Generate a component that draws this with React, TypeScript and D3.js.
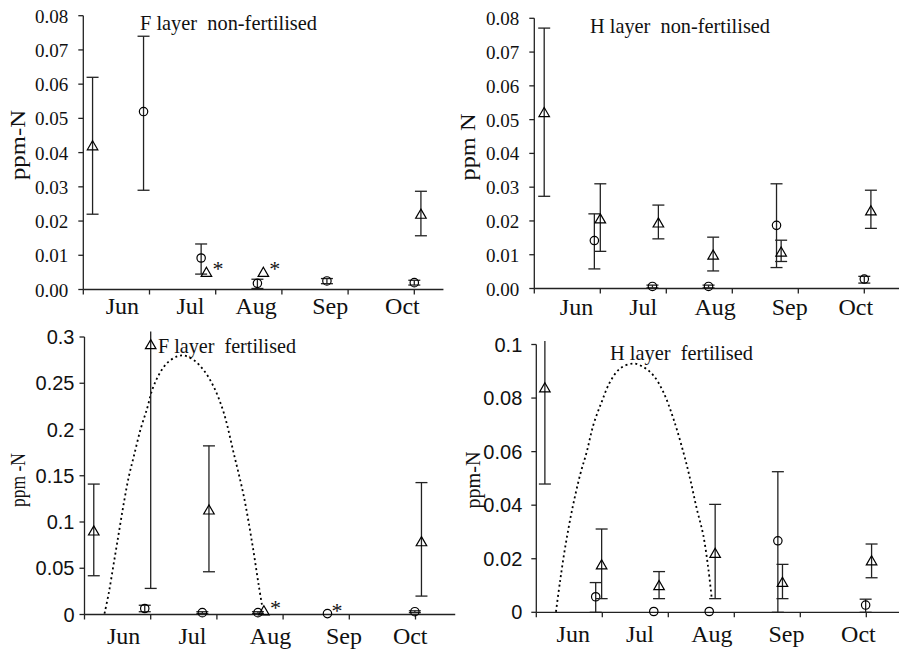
import * as d3 from 'd3'

// month axis: x is in "months since 1 June", ticks at month boundaries
const months = ['Jun', 'Jul', 'Aug', 'Sep', 'Oct']
const monthTicks = [1, 2, 3, 4, 5]

// --- F layer non-fertilised ---
const fNonCircX = [0.91, 1.78, 2.63, 3.68, 5.0]
const fNonCircY = [0.052, 0.0092, 0.0018, 0.0025, 0.002]
const fNonCircLo = [0.029, 0.0045, 0.0003, 0.0017, 0.0013]
const fNonCircHi = [0.074, 0.0133, 0.003, 0.0032, 0.0027]
const fNonTriX = [0.14, 1.86, 2.72, 5.1]
const fNonTriY = [0.042, 0.005, 0.005, 0.022]
const fNonTriLo = [0.022, 0.005, 0.005, 0.0157]
const fNonTriHi = [0.062, 0.005, 0.005, 0.0287]
const fNonTriSig = [false, true, true, false]
const fNonMonthPos = [0.59, 1.62, 2.61, 3.73, 4.82]

// --- H layer non-fertilised ---
const hNonCircX = [0.91, 1.79, 2.64, 3.67, 5.0]
const hNonCircY = [0.0142, 0.0006, 0.0006, 0.0187, 0.0028]
const hNonCircLo = [0.0058, 0.0002, 0.0002, 0.0062, 0.0016]
const hNonCircHi = [0.0221, 0.001, 0.001, 0.031, 0.0036]
const hNonTriX = [0.15, 1.0, 1.88, 2.71, 3.74, 5.1]
const hNonTriY = [0.0521, 0.0206, 0.0194, 0.0099, 0.0108, 0.023]
const hNonTriLo = [0.0273, 0.011, 0.0147, 0.0052, 0.008, 0.0178]
const hNonTriHi = [0.0771, 0.031, 0.0247, 0.0152, 0.0143, 0.0291]
const hNonMonthPos = [0.64, 1.65, 2.74, 3.87, 4.87]

const nonTicks = [0, 0.01, 0.02, 0.03, 0.04, 0.05, 0.06, 0.07, 0.08]
const nonTickLabels = ['0.00', '0.01', '0.02', '0.03', '0.04', '0.05', '0.06', '0.07', '0.08']

// --- F layer fertilised ---
const fFertCircX = [0.91, 1.78, 2.62, 3.67, 4.99]
const fFertCircY = [0.0065, 0.002, 0.002, 0.001, 0.003]
const fFertCircLo = [0.003, 0.001, 0.001, 0.001, 0.002]
const fFertCircHi = [0.01, 0.003, 0.003, 0.001, 0.004]
const fFertCircSig = [false, false, false, true, false]
const fFertTriX = [0.14, 1.0, 1.88, 2.71, 5.09]
const fFertTriY = [0.0903, 0.2917, 0.113, 0.004, 0.0787]
const fFertTriLo = [0.0419, 0.0282, 0.0462, 0.004, 0.0199]
const fFertTriHi = [0.141, 0.306, 0.1823, 0.004, 0.1426]
const fFertTriSig = [false, false, false, true, false]
const fFertMonthPos = [0.59, 1.63, 2.81, 3.92, 4.92]
const fFertTicks = [0, 0.05, 0.1, 0.15, 0.2, 0.25, 0.3]
const fFertTickLabels = ['0', '0.05', '0.1', '0.15', '0.2', '0.25', '0.3']
// dotted fertiliser curve
const fCurveX = [0.302, 0.367, 0.443, 0.518, 0.594, 0.669, 0.745, 0.846, 0.947, 1.023, 1.122, 1.249, 1.4, 1.5, 1.651, 1.802, 1.953, 2.104, 2.255, 2.406, 2.533, 2.633, 2.684]
const fCurveY = [0.001, 0.0234, 0.0558, 0.0881, 0.1205, 0.149, 0.171, 0.2, 0.223, 0.243, 0.259, 0.272, 0.279, 0.28, 0.275, 0.264, 0.246, 0.218, 0.174, 0.128, 0.077, 0.031, 0.009]

// --- H layer fertilised ---
const hFertCircX = [0.9, 1.78, 2.62, 3.66, 4.99]
const hFertCircY = [0.0058, 0.0003, 0.0003, 0.0267, 0.0027]
const hFertCircLo = [0, 0.0003, 0.0003, 0, 0]
const hFertCircHi = [0.0111, 0.0003, 0.0003, 0.0525, 0.0049]
const hFertTriX = [0.13, 0.99, 1.86, 2.71, 3.73, 5.08]
const hFertTriY = [0.0838, 0.0177, 0.00995, 0.022, 0.0112, 0.0192]
const hFertTriLo = [0.0479, 0.0051, 0.0051, 0.0051, 0.0051, 0.0129]
const hFertTriHi = [0.1013, 0.0311, 0.0152, 0.0403, 0.0179, 0.0255]
const hFertMonthPos = [0.56, 1.57, 2.66, 3.79, 4.88]
const hFertTicks = [0, 0.02, 0.04, 0.06, 0.08, 0.1]
const hFertTickLabels = ['0', '0.02', '0.04', '0.06', '0.08', '0.1']
const hCurveX = [0.298, 0.359, 0.435, 0.536, 0.662, 0.764, 0.864, 0.991, 1.117, 1.268, 1.47, 1.621, 1.773, 1.924, 2.076, 2.227, 2.329, 2.43, 2.53, 2.606, 2.658]
const hCurveY = [0.0002, 0.0114, 0.0239, 0.0375, 0.0512, 0.0599, 0.0699, 0.0786, 0.086, 0.091, 0.0929, 0.0916, 0.0885, 0.0823, 0.0724, 0.0599, 0.05, 0.0388, 0.0288, 0.0164, 0.0052]

const serif = "'Liberation Serif', serif"
const sans = "'Liberation Sans', sans-serif"

type Pt = { x: number; y: number; lo: number; hi: number; sig: boolean }
const pts = (x: number[], y: number[], lo: number[], hi: number[], sig?: boolean[]): Pt[] =>
  x.map((v, i) => ({ x: v, y: y[i], lo: lo[i], hi: hi[i], sig: sig ? sig[i] : false }))

const panels = [
  {
    title: 'F layer  non-fertilised', titleX: 140, titleY: 30, titleLen: 177,
    ylabel: 'ppm-N', ylabelX: 25, ylabelY: 145, ylabelLen: 70,
    left: 83.3, unit: 66.2, xMax: 5.44, top: 15.7, bottom: 289.5, yMax: 0.08,
    ticks: nonTicks, tickLabels: nonTickLabels, tickFont: serif, tickSize: 19, tickGap: 15,
    monthPos: fNonMonthPos, monthDy: 24,
    circles: pts(fNonCircX, fNonCircY, fNonCircLo, fNonCircHi),
    triangles: pts(fNonTriX, fNonTriY, fNonTriLo, fNonTriHi, fNonTriSig),
    curve: null as null | { x: number[]; y: number[] },
  },
  {
    title: 'H layer  non-fertilised', titleX: 590, titleY: 33, titleLen: 180,
    ylabel: 'ppm N', ylabelX: 475, ylabelY: 147, ylabelLen: 67,
    left: 534.3, unit: 66, xMax: 5.6, top: 18.3, bottom: 288.5, yMax: 0.08,
    ticks: nonTicks, tickLabels: nonTickLabels, tickFont: serif, tickSize: 19, tickGap: 15,
    monthPos: hNonMonthPos, monthDy: 26.5,
    circles: pts(hNonCircX, hNonCircY, hNonCircLo, hNonCircHi),
    triangles: pts(hNonTriX, hNonTriY, hNonTriLo, hNonTriHi),
    curve: null,
  },
  {
    title: 'F layer  fertilised', titleX: 158, titleY: 353, titleLen: 138,
    ylabel: 'ppm -N', ylabelX: 25, ylabelY: 480, ylabelLen: 54,
    left: 84.5, unit: 66.2, xMax: 5.6, top: 337, bottom: 614.5, yMax: 0.3,
    ticks: fFertTicks, tickLabels: fFertTickLabels, tickFont: sans, tickSize: 20, tickGap: 10,
    monthPos: fFertMonthPos, monthDy: 29,
    circles: pts(fFertCircX, fFertCircY, fFertCircLo, fFertCircHi, fFertCircSig),
    triangles: pts(fFertTriX, fFertTriY, fFertTriLo, fFertTriHi, fFertTriSig),
    curve: { x: fCurveX, y: fCurveY },
  },
  {
    title: 'H layer  fertilised', titleX: 610, titleY: 360, titleLen: 143,
    ylabel: 'ppm-N', ylabelX: 480, ylabelY: 480, ylabelLen: 57,
    left: 536.3, unit: 66, xMax: 5.6, top: 344.5, bottom: 612.3, yMax: 0.1,
    ticks: hFertTicks, tickLabels: hFertTickLabels, tickFont: sans, tickSize: 20, tickGap: 14,
    monthPos: hFertMonthPos, monthDy: 29.4,
    circles: pts(hFertCircX, hFertCircY, hFertCircLo, hFertCircHi),
    triangles: pts(hFertTriX, hFertTriY, hFertTriLo, hFertTriHi),
    curve: { x: hCurveX, y: hCurveY },
  },
]

type Cfg = (typeof panels)[number]

function ErrorBar({ cx, p, y, yMax }: { cx: number; p: Pt; y: d3.ScaleLinear<number, number>; yMax: number }) {
  if (p.hi === p.lo) return null
  const cap = 6
  return (
    <g stroke="#222" strokeWidth={1.3}>
      <line x1={cx} x2={cx} y1={y(p.lo)} y2={y(p.hi)} />
      <line x1={cx - cap} x2={cx + cap} y1={y(p.lo)} y2={y(p.lo)} />
      {p.hi <= yMax && <line x1={cx - cap} x2={cx + cap} y1={y(p.hi)} y2={y(p.hi)} />}
    </g>
  )
}

function Panel({ cfg }: { cfg: Cfg }) {
  const x = d3.scaleLinear().domain([0, cfg.xMax]).range([cfg.left, cfg.left + cfg.xMax * cfg.unit])
  const y = d3.scaleLinear().domain([0, cfg.yMax]).range([cfg.bottom, cfg.top])
  const tri = d3.symbol().type(d3.symbolTriangle).size(48)
  const line = d3
    .line<number>()
    .x((_, i) => x(cfg.curve!.x[i]))
    .y((d) => y(d))
    .curve(d3.curveCatmullRom)

  return (
    <g>
      {/* axes */}
      <g stroke="#222" strokeWidth={1.3} fill="none">
        <line x1={x(0)} x2={x(0)} y1={y(0)} y2={y(cfg.yMax)} />
        <line x1={x(0)} x2={x(cfg.xMax)} y1={y(0)} y2={y(0)} />
        {cfg.ticks.map((t) => (
          <line key={t} x1={x(0) - 5} x2={x(0)} y1={y(t)} y2={y(t)} />
        ))}
        {[0, ...monthTicks].map((t) => (
          <line key={t} x1={x(t)} x2={x(t)} y1={y(0)} y2={y(0) + 5} />
        ))}
      </g>
      {cfg.ticks.map((t, i) => (
        <text key={t} x={x(0) - cfg.tickGap} y={y(t) + 7} textAnchor="end" style={{ fontFamily: cfg.tickFont }} fontSize={cfg.tickSize} fill="#111">
          {cfg.tickLabels[i]}
        </text>
      ))}
      {months.map((m, i) => (
        <text key={m} x={x(cfg.monthPos[i])} y={y(0) + cfg.monthDy} textAnchor="middle" style={{ fontFamily: serif }} fontSize={24} fill="#111">
          {m}
        </text>
      ))}
      <text
        transform={`translate(${cfg.ylabelX},${cfg.ylabelY}) rotate(-90)`}
        textAnchor="middle" style={{ fontFamily: serif }} fontSize={20} fill="#111"
        textLength={cfg.ylabelLen} lengthAdjust="spacingAndGlyphs"
      >
        {cfg.ylabel}
      </text>
      <text
        x={cfg.titleX} y={cfg.titleY} fontSize={21} fill="#111"
        style={{ whiteSpace: 'pre', fontFamily: serif }} textLength={cfg.titleLen} lengthAdjust="spacingAndGlyphs"
      >
        {cfg.title}
      </text>

      {cfg.curve && (
        <path d={line(cfg.curve.y) ?? ''} fill="none" stroke="#000" strokeWidth={1.8} strokeDasharray="2,3" />
      )}

      {cfg.circles.map((p, i) => (
        <g key={`c${i}`}>
          <ErrorBar cx={x(p.x)} p={p} y={y} yMax={cfg.yMax} />
          <circle cx={x(p.x)} cy={y(p.y)} r={4.2} fill="none" stroke="#000" strokeWidth={1.2} />
          {p.sig && (
            <text x={x(p.x) + 4} y={y(p.y) + 4} style={{ fontFamily: serif }} fontSize={22} fill="#111">*</text>
          )}
        </g>
      ))}
      {cfg.triangles.map((p, i) => (
        <g key={`t${i}`}>
          <ErrorBar cx={x(p.x)} p={p} y={y} yMax={cfg.yMax} />
          <path
            d={tri() ?? ''}
            transform={`translate(${x(p.x)},${y(p.y) + 1})`}
            fill="none" stroke="#000" strokeWidth={1.2}
          />
          {p.sig && (
            <text x={x(p.x) + 6} y={y(p.y) + 4} style={{ fontFamily: serif }} fontSize={22} fill="#111">*</text>
          )}
        </g>
      ))}
    </g>
  )
}

export default function App() {
  return (
    <svg width={899} height={650} style={{ position: 'absolute', left: 0, top: 0, background: '#fff' }}>
      {panels.map((p) => (
        <Panel key={p.title} cfg={p} />
      ))}
    </svg>
  )
}
